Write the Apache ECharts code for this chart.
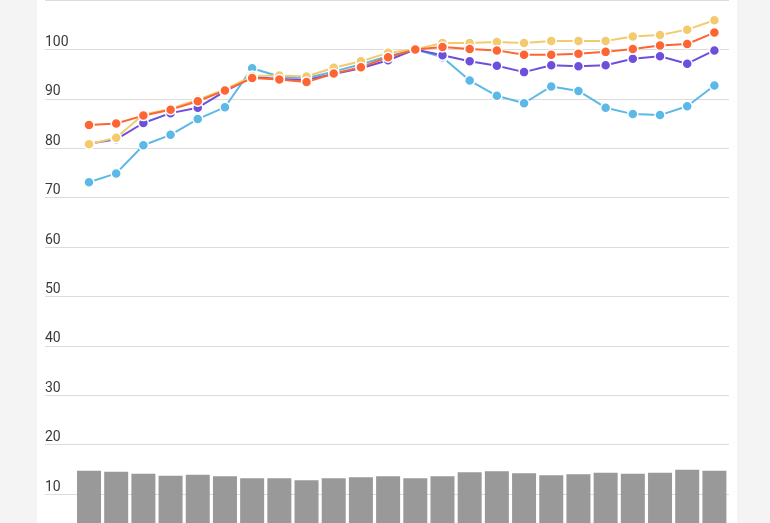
<!DOCTYPE html>
<html>
<head>
<meta charset="utf-8">
<script src="https://cdn.jsdelivr.net/npm/echarts@6/dist/echarts.min.js"></script>
<style>
  html, body { margin: 0; padding: 0; width: 770px; height: 523px; background: #f4f4f4; overflow: hidden; }
  #panel { position: absolute; left: 37px; top: 0; width: 700px; height: 523px; background: #ffffff; }
  #chart { position: absolute; left: 0; top: 0; width: 770px; height: 544px; }
</style>
</head>
<body>
<div id="panel"></div>
<div id="chart"></div>
<script>
const categories = ['1','2','3','4','5','6','7','8','9','10','11','12','13','14','15','16','17','18','19','20','21','22','23','24'];
const yTicks = [0, 10, 20, 30, 40, 50, 60, 70, 80, 90, 100, 110];

const barValues = [14.7, 14.5, 14.1, 13.7, 13.9, 13.6, 13.2, 13.2, 12.8, 13.2, 13.4, 13.6, 13.2, 13.6, 14.4, 14.6, 14.2, 13.8, 14.0, 14.3, 14.1, 14.3, 14.9, 14.7];
const blueValues = [73.1, 74.9, 80.6, 82.7, 85.9, 88.3, 96.2, 94.5, 94.2, 95.5, 97.0, 98.6, 100, 98.4, 93.7, 90.6, 89.1, 92.5, 91.6, 88.2, 86.9, 86.7, 88.5, 92.7];
const purpleValues = [80.9, 81.8, 85.1, 87.1, 88.2, 91.5, 94.4, 94.0, 93.8, 95.0, 96.2, 97.8, 100, 98.8, 97.6, 96.7, 95.4, 96.8, 96.6, 96.8, 98.1, 98.6, 97.1, 99.8];
const yellowValues = [80.8, 82.1, 86.8, 88.0, 89.8, 91.9, 94.6, 94.7, 94.5, 96.3, 97.6, 99.3, 100, 101.3, 101.3, 101.5, 101.3, 101.7, 101.7, 101.7, 102.6, 102.9, 104.0, 105.9];
const orangeValues = [84.7, 85.0, 86.6, 87.8, 89.5, 91.7, 94.2, 93.9, 93.4, 95.1, 96.4, 98.4, 100, 100.5, 100.1, 99.8, 98.9, 98.9, 99.1, 99.5, 100.1, 100.8, 101.1, 103.4];

const yMin = yTicks[0], yMax = yTicks[yTicks.length - 1], yStep = yTicks[1] - yTicks[0];

function lineSeries(name, data, color) {
  return {
    name, type: 'line', data, xAxisIndex: 1, yAxisIndex: 1,
    symbol: 'circle', symbolSize: 10, showSymbol: true,
    lineStyle: { color, width: 2 },
    itemStyle: { color, borderColor: '#ffffff', borderWidth: 1.5 },
    emphasis: { disabled: true }
  };
}

const chart = echarts.init(document.getElementById('chart'), null, { renderer: 'canvas' });
chart.setOption({
  animation: false,
  backgroundColor: 'transparent',
  textStyle: { fontFamily: 'Roboto, sans-serif' },
  grid: [
    { left: 45, right: 41, top: 0, bottom: 0.6 },
    { left: 75.4, right: 42, top: 0, bottom: 0.6 }
  ],
  xAxis: [
    { type: 'value', gridIndex: 0, show: false, min: 0, max: 1 },
    { type: 'category', gridIndex: 1, data: categories, show: false, boundaryGap: true }
  ],
  yAxis: [
    {
      type: 'value', gridIndex: 0, min: yMin, max: yMax, interval: yStep,
      axisLine: { show: false }, axisTick: { show: false },
      axisLabel: {
        inside: true, margin: 0, align: 'left', verticalAlign: 'bottom',
        color: '#3a3a3a', fontSize: 14, fontFamily: 'Roboto, sans-serif',
        padding: [0, 0, 0, 0], showMaxLabel: false, showMinLabel: false
      },
      splitLine: { show: true, lineStyle: { color: '#dcdcdc', width: 1 } }
    },
    {
      type: 'value', gridIndex: 1, min: yMin, max: yMax, interval: yStep, show: false,
      splitLine: { show: false }
    }
  ],
  series: [
    {
      name: 'bars', type: 'bar', data: barValues, xAxisIndex: 1, yAxisIndex: 1,
      barWidth: 24, itemStyle: { color: '#999999' }, emphasis: { disabled: true }
    },
    lineSeries('blue', blueValues, '#5cb8e6'),
    lineSeries('purple', purpleValues, '#6c4fdc'),
    lineSeries('yellow', yellowValues, '#f3cb6e'),
    lineSeries('orange', orangeValues, '#ff6433')
  ]
});
</script>
</body>
</html>
